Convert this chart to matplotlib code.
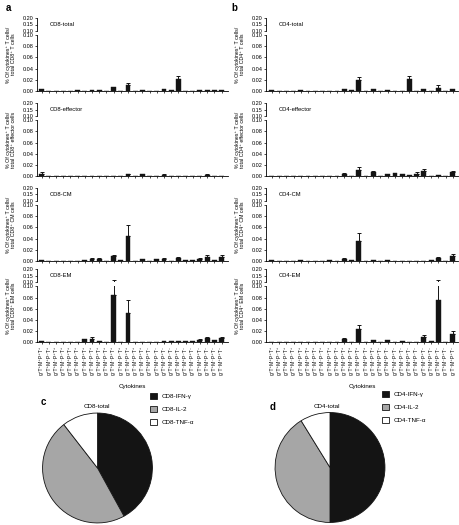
import numpy as np
import matplotlib
matplotlib.use("Agg")
import matplotlib.pyplot as plt

plt.rcParams['font.family'] = ['Liberation Sans', 'DejaVu Sans']

W, H = 460, 525

# ---------------- data ----------------
n_combo = 26
combo_labels = [
    "g⁺T⁺M⁺P⁺T⁺", "g⁺T⁺M⁺P⁻T⁺", "g⁺T⁺M⁻P⁺T⁺", "g⁺T⁺M⁻P⁻T⁺", "g⁺T⁻M⁺P⁺T⁺",
    "g⁺T⁻M⁺P⁻T⁺", "g⁺T⁻M⁻P⁺T⁺", "g⁺T⁻M⁻P⁻T⁺", "g⁻T⁺M⁺P⁺T⁺", "g⁻T⁺M⁺P⁻T⁺",
    "g⁻T⁺M⁻P⁺T⁺", "g⁻T⁺M⁻P⁻T⁺", "g⁻T⁻M⁺P⁺T⁺", "g⁻T⁻M⁺P⁻T⁺", "g⁻T⁻M⁻P⁺T⁺",
    "g⁺T⁺M⁺P⁺T⁻", "g⁺T⁺M⁺P⁻T⁻", "g⁺T⁺M⁻P⁺T⁻", "g⁺T⁺M⁻P⁻T⁻", "g⁺T⁻M⁺P⁺T⁻",
    "g⁺T⁻M⁺P⁻T⁻", "g⁺T⁻M⁻P⁺T⁻", "g⁻T⁺M⁺P⁺T⁻", "g⁻T⁺M⁺P⁻T⁻", "g⁻T⁺M⁻P⁺T⁻",
    "g⁻T⁻M⁺P⁺T⁻",
]

def arr(d):
    a = np.zeros(n_combo)
    for k, v in d.items():
        a[k] = v
    return a

# CD8 panels (means, upper error)
cd8_total = arr({0: .003, 5: .001, 7: .001, 8: .001, 10: .008, 12: .011, 14: .002, 17: .003,
                 18: .001, 19: .021, 22: .001, 23: .002, 24: .0015, 25: .002})
cd8_total_err = arr({12: .003, 19: .005})
cd8_effector = arr({0: .005, 5: .0005, 6: .0005, 7: .0005, 10: .001, 12: .004, 14: .004, 16: .001,
                    17: .003, 19: .001, 20: .0005, 22: .0005, 23: .003, 24: .001, 25: .0005})
cd8_effector_err = arr({0: .002, 12: .001, 14: .001, 17: .001, 23: .001})
cd8_cm = arr({0: .002, 1: .0005, 4: .0005, 6: .002, 7: .004, 8: .004, 10: .009, 11: .002, 12: .044,
              14: .003, 16: .003, 17: .004, 18: .0005, 19: .006, 20: .001, 21: .001, 22: .004,
              23: .007, 24: .002, 25: .007})
cd8_cm_err = arr({7: .002, 8: .001, 10: .002, 12: .021, 17: .001, 19: .001, 22: .001, 23: .003, 25: .003})
cd8_em = arr({0: .002, 5: .001, 6: .006, 7: .006, 8: .003, 9: .001, 10: .085, 12: .052, 14: .001,
              17: .002, 18: .002, 19: .003, 20: .003, 21: .002, 22: .005, 23: .007, 24: .004, 25: .007})
cd8_em_err = arr({7: .004, 10: .03, 12: .024, 22: .001, 23: .002, 25: .003})

# CD4 panels
cd4_total = arr({0: .001, 3: .0005, 4: .001, 10: .003, 11: .001, 12: .019, 14: .003, 16: .001,
                 19: .022, 21: .003, 23: .006, 25: .003})
cd4_total_err = arr({10: .001, 12: .006, 19: .005, 23: .005})
cd4_effector = arr({0: .001, 7: .0005, 8: .001, 10: .005, 12: .012, 14: .008, 16: .004, 17: .006,
                    18: .004, 19: .003, 20: .004, 21: .009, 22: .001, 23: .002, 24: .0005, 25: .007})
cd4_effector_err = arr({10: .001, 12: .005, 14: .002, 20: .003, 21: .004, 25: .003})
cd4_cm = arr({0: .001, 2: .0005, 4: .001, 8: .001, 10: .004, 11: .002, 12: .035, 14: .002, 16: .001,
              19: .0005, 22: .001, 23: .006, 25: .009})
cd4_cm_err = arr({10: .001, 12: .015, 23: .002, 25: .004})
cd4_em = arr({0: .001, 2: .0005, 3: .0005, 7: .0005, 8: .0005, 10: .006, 12: .023, 13: .001,
              14: .005, 16: .004, 17: .001, 18: .002, 19: .001, 20: .001, 21: .009, 22: .002,
              23: .075, 24: .001, 25: .015})
cd4_em_err = arr({10: .001, 12: .008, 21: .004, 23: .045, 25: .005})

cd8_names = ["CD8-total", "CD8-effector", "CD8-CM", "CD8-EM"]
cd4_names = ["CD4-total", "CD4-effector", "CD4-CM", "CD4-EM"]
cd8_ylabels = ["total CD8⁺ T cells", "total CD8⁺ effector cells", "total CD8⁺ CM cells", "total CD8⁺ EM cells"]
cd4_ylabels = ["total CD4⁺ T cells", "total CD4⁺ effector cells", "total CD4⁺ CM cells", "total CD4⁺ EM cells"]
cd8_vals = [(cd8_total, cd8_total_err), (cd8_effector, cd8_effector_err), (cd8_cm, cd8_cm_err), (cd8_em, cd8_em_err)]
cd4_vals = [(cd4_total, cd4_total_err), (cd4_effector, cd4_effector_err), (cd4_cm, cd4_cm_err), (cd4_em, cd4_em_err)]

pie_labels_cd8 = ["CD8-IFN-γ", "CD8-IL-2", "CD8-TNF-α"]
pie_values_cd8 = [42.0, 47.5, 10.5]
pie_labels_cd4 = ["CD4-IFN-γ", "CD4-IL-2", "CD4-TNF-α"]
pie_values_cd4 = [50.0, 41.2, 8.8]
pie_colors = ["#141414", "#a6a6a6", "#ffffff"]

# ---------------- layout ----------------
fig = plt.figure(figsize=(W / 100, H / 100), dpi=100)
fig.patch.set_facecolor("white")

def add_ax(x0, y0, x1, y1):
    return fig.add_axes([x0 / W, 1 - y1 / H, (x1 - x0) / W, (y1 - y0) / H])

FS = 4.0
LW = 0.6
bottoms = [91, 176.3, 261, 342.3]
main_h = 56
x = np.arange(n_combo)

def style_axis(ax):
    for s in ["top", "right"]:
        ax.spines[s].set_visible(False)
    for s in ["left", "bottom"]:
        ax.spines[s].set_linewidth(LW)
    ax.tick_params(axis="both", labelsize=FS, width=0.5, length=1.6, pad=1)

def draw_column(x0, x1, xlim, names, ylabels, vals, show_xlabels):
    for i in range(4):
        yb = bottoms[i]
        yt = yb - main_h
        ax = add_ax(x0, yt, x1, yb)
        axb = add_ax(x0, yt - 17, x1, yt - 4)
        m, e = vals[i]
        for a in (ax, axb):
            a.bar(x, m, width=0.68, color="#141414", edgecolor="#141414", linewidth=0.3, zorder=2)
            em = e > 0
            a.errorbar(x[em], m[em], yerr=[np.zeros(em.sum()), e[em]], fmt="none",
                       ecolor="#141414", elinewidth=0.7, capsize=1.1, capthick=0.7, zorder=3)
            a.set_xlim(*xlim)
            style_axis(a)
        ax.set_ylim(0, 0.10)
        ax.set_yticks([0, 0.02, 0.04, 0.06, 0.08, 0.10])
        ax.set_yticklabels(["0.00", "0.02", "0.04", "0.06", "0.08", "0.10"])
        ax.set_xticks(x)
        if show_xlabels and i == 3:
            ax.set_xticklabels(combo_labels, rotation=90, fontsize=3.6, va="top", ha="center")
            ax.set_xlabel("Cytokines", fontsize=4.5, labelpad=6)
        else:
            ax.set_xticklabels([])
        axb.set_ylim(0.10, 0.20)
        axb.set_yticks([0.10, 0.15, 0.20])
        axb.set_yticklabels(["0.10", "0.15", "0.20"])
        axb.spines["bottom"].set_visible(False)
        axb.set_xticks([])
        axb.patch.set_alpha(0)
        axb.text(0.065, 0.5, names[i], transform=axb.transAxes, fontsize=4.2,
                 va="center", ha="left")
        # y label
        fig.text((x0 - 26) / W, 1 - (yt - 17 + yb) / 2 / H,
                 "% Of cytokines⁺ T cells/\n" + ylabels[i], rotation=90,
                 fontsize=3.8, ha="center", va="center", linespacing=1.2)

draw_column(37, 228, (-0.65, 25.9), cd8_names, cd8_ylabels, cd8_vals, True)
draw_column(266, 458, (-0.8, 25.7), cd4_names, cd4_ylabels, cd4_vals, True)

fig.text(8 / W, 1 - 8 / H, "a", fontsize=7, fontweight="bold", ha="center", va="center")
fig.text(234 / W, 1 - 8 / H, "b", fontsize=7, fontweight="bold", ha="center", va="center")

# ---------------- pies ----------------
def draw_pie(cx, cy, r, values, labels, title, title_xy, letter_xy, letter, leg_xy):
    ax = add_ax(cx - r, cy - r, cx + r, cy + r)
    wedges, _ = ax.pie(values, colors=pie_colors, startangle=90, counterclock=False,
                       wedgeprops=dict(edgecolor="#141414", linewidth=0.6))
    ax.set_aspect("equal")
    ax.set_xlim(-1.01, 1.01)
    ax.set_ylim(-1.01, 1.01)
    fig.text(title_xy[0] / W, 1 - title_xy[1] / H, title, fontsize=4.5, ha="center", va="center")
    fig.text(letter_xy[0] / W, 1 - letter_xy[1] / H, letter, fontsize=7, fontweight="bold",
             ha="center", va="center")
    fig.legend(wedges, labels, loc="upper left", bbox_to_anchor=(leg_xy[0] / W, 1 - leg_xy[1] / H),
               frameon=False, fontsize=4.5, handlelength=1.2, handleheight=1.2,
               labelspacing=1.05, handletextpad=0.6, borderpad=0, borderaxespad=0)

draw_pie(97.5, 468, 55.5, pie_values_cd8, pie_labels_cd8, "CD8-total", (97, 407), (43, 402), "c", (150, 393))
draw_pie(330, 467.5, 55.5, pie_values_cd4, pie_labels_cd4, "CD4-total", (327, 407), (273, 407), "d", (382, 391))

fig.savefig("out.png", dpi=100, facecolor="white")
